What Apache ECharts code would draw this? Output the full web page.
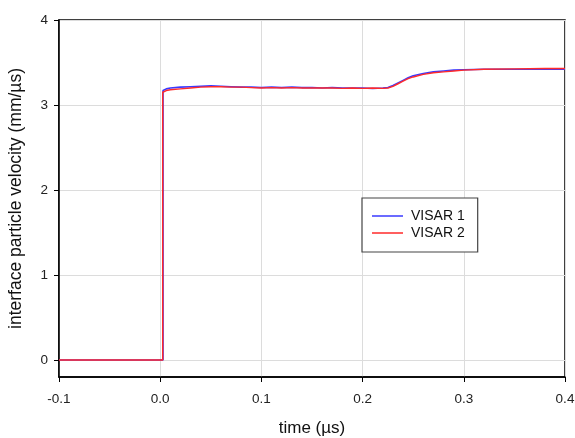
<!DOCTYPE html>
<html>
<head>
<meta charset="utf-8">
<script src="https://cdn.jsdelivr.net/npm/echarts@6/dist/echarts.min.js"></script>
<style>
  html, body { margin: 0; padding: 0; background: #fff; }
  #chart { width: 575px; height: 438px; }
</style>
</head>
<body>
<div id="chart"></div>
<script>
// Interface particle velocity histories from two VISAR channels
const seriesNames = ['VISAR 1', 'VISAR 2'];

// time (µs)
const visar1Time = [-0.1, -0.05, 0.0, 0.0028, 0.0028, 0.006, 0.01, 0.02, 0.03, 0.04, 0.05, 0.06, 0.07, 0.08,
  0.09, 0.10, 0.11, 0.12, 0.13, 0.14, 0.15, 0.16, 0.17, 0.18, 0.19, 0.20, 0.21, 0.22, 0.225, 0.23, 0.235,
  0.24, 0.245, 0.25, 0.26, 0.27, 0.28, 0.29, 0.30, 0.32, 0.34, 0.36, 0.38, 0.40];
// velocity (mm/µs)
const visar1Vel = [0, 0, 0, 0, 3.17, 3.19, 3.20, 3.21, 3.215, 3.22, 3.225, 3.22, 3.215, 3.21,
  3.21, 3.205, 3.21, 3.205, 3.21, 3.205, 3.205, 3.20, 3.205, 3.20, 3.20, 3.20, 3.195, 3.20, 3.205, 3.23, 3.26,
  3.29, 3.32, 3.345, 3.37, 3.39, 3.40, 3.41, 3.415, 3.42, 3.42, 3.42, 3.42, 3.42];

const visar2Time = [-0.1, -0.05, 0.0, 0.0025, 0.0025, 0.006, 0.01, 0.02, 0.03, 0.04, 0.05, 0.06, 0.07, 0.08,
  0.09, 0.10, 0.11, 0.12, 0.13, 0.14, 0.15, 0.16, 0.17, 0.18, 0.19, 0.20, 0.21, 0.22, 0.225, 0.23, 0.235,
  0.24, 0.245, 0.25, 0.26, 0.27, 0.28, 0.29, 0.30, 0.32, 0.35, 0.38, 0.40];
const visar2Vel = [0, 0, 0, 0, 3.15, 3.17, 3.18, 3.19, 3.20, 3.21, 3.215, 3.215, 3.21, 3.21,
  3.205, 3.20, 3.205, 3.20, 3.205, 3.20, 3.20, 3.20, 3.20, 3.195, 3.20, 3.195, 3.20, 3.195, 3.20, 3.22, 3.25,
  3.28, 3.31, 3.33, 3.36, 3.38, 3.39, 3.40, 3.41, 3.42, 3.425, 3.43, 3.43];

const xTicks = [-0.1, 0.0, 0.1, 0.2, 0.3, 0.4];
const yTicks = [0, 1, 2, 3, 4];

const pairs = (t, v) => t.map((x, i) => [x, v[i]]);

const chart = echarts.init(document.getElementById('chart'), null, { renderer: 'canvas' });
const font = 'Liberation Sans, Arial, sans-serif';

chart.setOption({
  animation: false,
  backgroundColor: '#fff',
  grid: {
    left: 59, right: 10, top: 20, bottom: 61,
    containLabel: false,
    outerBoundsMode: 'none',
    show: true, borderColor: '#000', borderWidth: 1.5, backgroundColor: 'transparent'
  },
  legend: {
    orient: 'vertical',
    left: 362, top: 198,
    data: seriesNames,
    icon: 'rect',
    backgroundColor: '#fff',
    borderColor: '#444', borderWidth: 1.2,
    padding: [11, 13, 12, 10],
    itemWidth: 31, itemHeight: 1.5, itemGap: 3,
    textStyle: { fontFamily: font, fontSize: 14, color: '#111', padding: [0, 0, 0, 3] }
  },
  xAxis: {
    type: 'value',
    min: -0.1, max: 0.4, interval: 0.1,
    name: 'time (\u00b5s)',
    nameLocation: 'middle', nameGap: 43,
    nameTextStyle: { fontFamily: font, fontSize: 17, color: '#111' },
    axisLine: { show: true, onZero: false, lineStyle: { color: '#000', width: 1.5 } },
    axisTick: { show: true, inside: false, length: 5, lineStyle: { color: '#000', width: 1 }, customValues: xTicks },
    axisLabel: {
      fontFamily: font, fontSize: 13.5, color: '#222', margin: 15,
      customValues: xTicks,
      formatter: v => v.toFixed(1)
    },
    splitLine: { show: true, lineStyle: { color: '#dcdcdc', width: 1 } }
  },
  yAxis: {
    type: 'value',
    min: -0.2, max: 4,
    name: 'interface particle velocity (mm/\u00b5s)',
    nameLocation: 'middle', nameGap: 34,
    nameTextStyle: { fontFamily: font, fontSize: 17.5, color: '#111' },
    axisLine: { show: true, onZero: false, lineStyle: { color: '#000', width: 1.5 } },
    axisTick: { show: true, inside: false, length: 5, lineStyle: { color: '#000', width: 1 }, customValues: yTicks },
    axisLabel: {
      fontFamily: font, fontSize: 13.5, color: '#222', margin: 11,
      customValues: yTicks,
      formatter: v => String(Math.round(v))
    },
    splitLine: { show: true, lineStyle: { color: '#dcdcdc', width: 1 } }
  },
  series: [
    {
      name: seriesNames[0], type: 'line',
      data: pairs(visar1Time, visar1Vel),
      showSymbol: false, symbol: 'none',
      lineStyle: { color: '#3a3aff', width: 1.6 },
      itemStyle: { color: '#3a3aff' },
      z: 2
    },
    {
      name: seriesNames[1], type: 'line',
      data: pairs(visar2Time, visar2Vel),
      showSymbol: false, symbol: 'none',
      lineStyle: { color: '#ff2a2a', width: 1.4 },
      itemStyle: { color: '#ff2a2a' },
      z: 3
    }
  ]
});
</script>
</body>
</html>
